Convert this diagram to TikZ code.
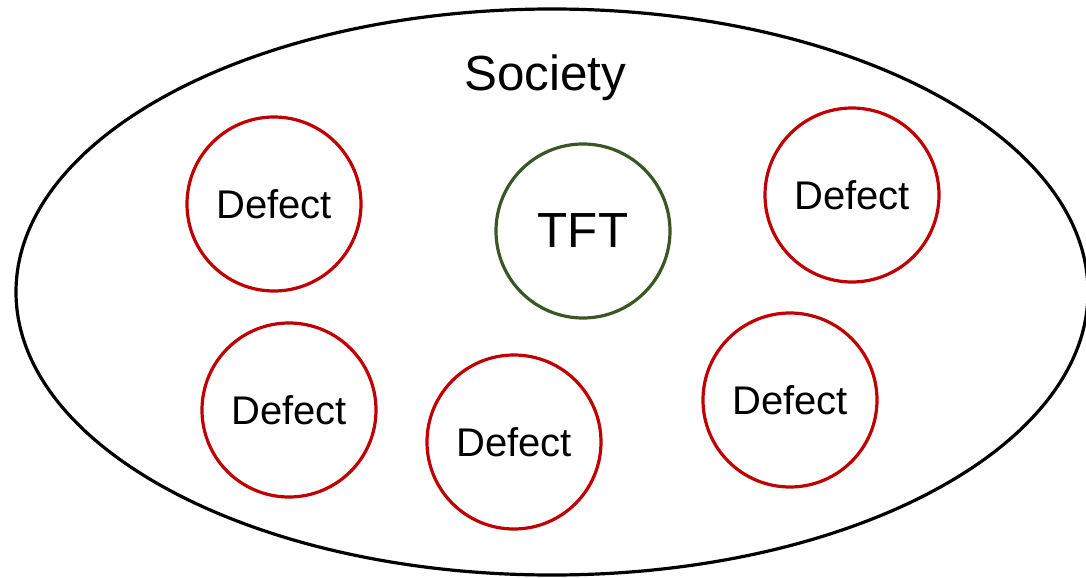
\documentclass[tikz,border=0pt]{standalone}
\usepackage{fontspec}
\setmainfont{Liberation Sans}
\definecolor{defred}{HTML}{C00000}
\definecolor{tftgreen}{HTML}{385723}
\begin{document}
\begin{tikzpicture}[x=0.75pt,y=-0.75pt,
  player/.style={circle,draw,line width=2.4pt,minimum size=130.5pt,inner sep=0pt,font=\fontsize{30}{36}\selectfont},
  defector/.style={player,draw=defred},
  tft/.style={player,draw=tftgreen,font=\fontsize{37}{44}\selectfont}]
\useasboundingbox (0,0) rectangle (1086,578);
\draw[line width=2.4pt] (552,292) ellipse [x radius=536, y radius=283];
\node[anchor=base,font=\fontsize{37}{44}\selectfont] (society) at (545,90) {Society};
\node[defector] (d1) at (274,204) {Defect};
\node[tft] (tft) at (583,231) {TFT};
\node[defector] (d2) at (852,195) {Defect};
\node[defector] (d3) at (289,410) {Defect};
\node[defector] (d4) at (514,442) {Defect};
\node[defector] (d5) at (790,400) {Defect};
\end{tikzpicture}
\end{document}
